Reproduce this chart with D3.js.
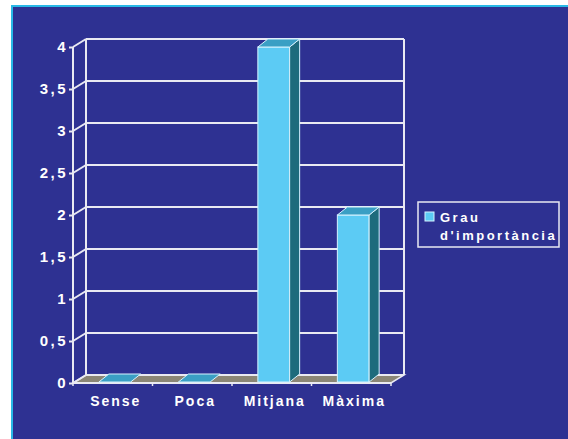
<!DOCTYPE html>
<html>
<head>
<meta charset="utf-8">
<script src="https://cdn.jsdelivr.net/npm/d3@7"></script>
<style>
  body { margin: 0; background: #fff; }
  svg text { font-family: 'Liberation Sans', Arial, sans-serif; font-weight: bold; fill: #fff; }
</style>
</head>
<body>
<div id="chart"></div>
<script>
const categories = ['Sense', 'Poca', 'Mitjana', 'Màxima']
const values = [0, 0, 4, 2]
const yTicks = [0, 0.5, 1, 1.5, 2, 2.5, 3, 3.5, 4]
const legendLines = ['Grau', "d'importància"]

const W = 568
const H = 439

// depth offsets for the 3d look
const wallDx = 13
const wallDy = -8
const barDx = 10
const barDy = -8

const svg = d3
  .select('#chart')
  .append('svg')
  .attr('width', W)
  .attr('height', H)

// panel
svg.append('rect')
  .attr('x', 11).attr('y', 5)
  .attr('width', W - 11).attr('height', H - 5)
  .attr('fill', '#29b8e6')
svg.append('rect')
  .attr('x', 13).attr('y', 7)
  .attr('width', W - 13).attr('height', H - 7)
  .attr('fill', '#2e3192')

const x = d3.scaleBand()
  .domain(categories)
  .range([73, 391])
  .paddingInner(0.6)
  .paddingOuter(0.3)

const y = d3.scaleLinear()
  .domain([0, 4])
  .range([383, 47])

const x0 = 73
const x1 = 391
const lineColor = '#e9e9f2'

// floor
svg.append('path')
  .attr('d', `M${x0},${y(0)} L${x1},${y(0)} L${x1 + wallDx},${y(0) + wallDy} L${x0 + wallDx},${y(0) + wallDy} Z`)
  .attr('fill', '#8b8676')
  .attr('stroke', lineColor)
  .attr('stroke-width', 1.5)

// back wall grid
const g = svg.append('g')
g.selectAll('.grid')
  .data(yTicks)
  .enter()
  .append('line')
  .attr('x1', x0 + wallDx)
  .attr('x2', x1 + wallDx)
  .attr('y1', d => y(d) + wallDy)
  .attr('y2', d => y(d) + wallDy)
  .attr('stroke', lineColor)
  .attr('stroke-width', 2)

// side wall diagonals
g.selectAll('.diag')
  .data(yTicks)
  .enter()
  .append('line')
  .attr('x1', x0)
  .attr('x2', x0 + wallDx)
  .attr('y1', d => y(d))
  .attr('y2', d => y(d) + wallDy)
  .attr('stroke', lineColor)
  .attr('stroke-width', 2)

// verticals
const verticals = [
  [x0, y(0), x0, y(4)],
  [x0 + wallDx, y(0) + wallDy, x0 + wallDx, y(4) + wallDy],
  [x1 + wallDx, y(0) + wallDy, x1 + wallDx, y(4) + wallDy]
]
g.selectAll('.vert')
  .data(verticals)
  .enter()
  .append('line')
  .attr('x1', d => d[0]).attr('y1', d => d[1])
  .attr('x2', d => d[2]).attr('y2', d => d[3])
  .attr('stroke', lineColor)
  .attr('stroke-width', 2)

// front edge of floor + category ticks
g.append('line')
  .attr('x1', x0).attr('x2', x1)
  .attr('y1', y(0)).attr('y2', y(0))
  .attr('stroke', lineColor).attr('stroke-width', 2)

const bounds = categories.map((c, i) => x0 + i * x.step()).concat([x1])
g.selectAll('.ctick')
  .data(bounds)
  .enter()
  .append('line')
  .attr('x1', d => d).attr('x2', d => d)
  .attr('y1', y(0)).attr('y2', y(0) + 3)
  .attr('stroke', lineColor).attr('stroke-width', 1.5)

// bars
const bars = svg.selectAll('.bar')
  .data(categories.map((c, i) => ({ c, v: values[i] })))
  .enter()
  .append('g')
  .attr('class', 'bar')

const bw = x.bandwidth()
const barX = d => x(d.c) + 2

bars.filter(d => d.v > 0)
  .append('rect')
  .attr('x', d => barX(d))
  .attr('y', d => y(d.v))
  .attr('width', bw)
  .attr('height', d => y(0) - y(d.v) - 1)
  .attr('fill', '#5ccbf4')
  .attr('stroke', '#d6f3ff')
  .attr('stroke-width', 1)

bars.filter(d => d.v > 0)
  .append('path')
  .attr('d', d => {
    const xr = barX(d) + bw
    return `M${xr},${y(d.v)} L${xr + barDx},${y(d.v) + barDy} L${xr + barDx},${y(0) - 1 + barDy} L${xr},${y(0) - 1} Z`
  })
  .attr('fill', '#1d6b7c')
  .attr('stroke', '#d6f3ff')
  .attr('stroke-width', 1)

// top faces (also drawn for zero bars on the floor)
bars.append('path')
  .attr('d', d => {
    const xl = barX(d)
    const xr = xl + bw
    const yt = d.v > 0 ? y(d.v) : y(0) - 1
    return `M${xl},${yt} L${xr},${yt} L${xr + barDx},${yt + barDy} L${xl + barDx},${yt + barDy} Z`
  })
  .attr('fill', '#3a9fc4')
  .attr('stroke', '#d6f3ff')
  .attr('stroke-width', 1)

// y axis
const fmt = d3.formatLocale({ decimal: ',', thousands: '.', grouping: [3], currency: ['', ''] }).format('~g')
const yAxis = d3.axisLeft(y)
  .tickValues(yTicks)
  .tickFormat(fmt)
  .tickSize(4)
  .tickPadding(1)

const ya = svg.append('g')
  .attr('transform', `translate(${x0},0)`)
  .call(yAxis)
ya.select('.domain').remove()
ya.selectAll('line').attr('stroke', lineColor).attr('stroke-width', 2)
ya.selectAll('text')
  .attr('fill', '#fff')
  .style('font-size', '15px')
  .style('letter-spacing', '2.5px')

// category labels
svg.selectAll('.clabel')
  .data(categories)
  .enter()
  .append('text')
  .attr('x', d => x(d) + bw / 2 + 3)
  .attr('y', 406)
  .attr('text-anchor', 'middle')
  .style('font-size', '14px')
  .style('letter-spacing', '2px')
  .text(d => d)

// legend
const lg = svg.append('g')
lg.append('rect')
  .attr('x', 418).attr('y', 202)
  .attr('width', 141).attr('height', 45)
  .attr('fill', 'none')
  .attr('stroke', lineColor)
  .attr('stroke-width', 1.5)
lg.append('rect')
  .attr('x', 425).attr('y', 212)
  .attr('width', 9).attr('height', 9)
  .attr('fill', '#5ccbf4')
  .attr('stroke', '#d6f3ff')
lg.selectAll('.ltext')
  .data(legendLines)
  .enter()
  .append('text')
  .attr('x', 440)
  .attr('y', (d, i) => 222 + i * 18)
  .style('font-size', '13px')
  .style('letter-spacing', '2.5px')
  .text(d => d)
</script>
</body>
</html>
